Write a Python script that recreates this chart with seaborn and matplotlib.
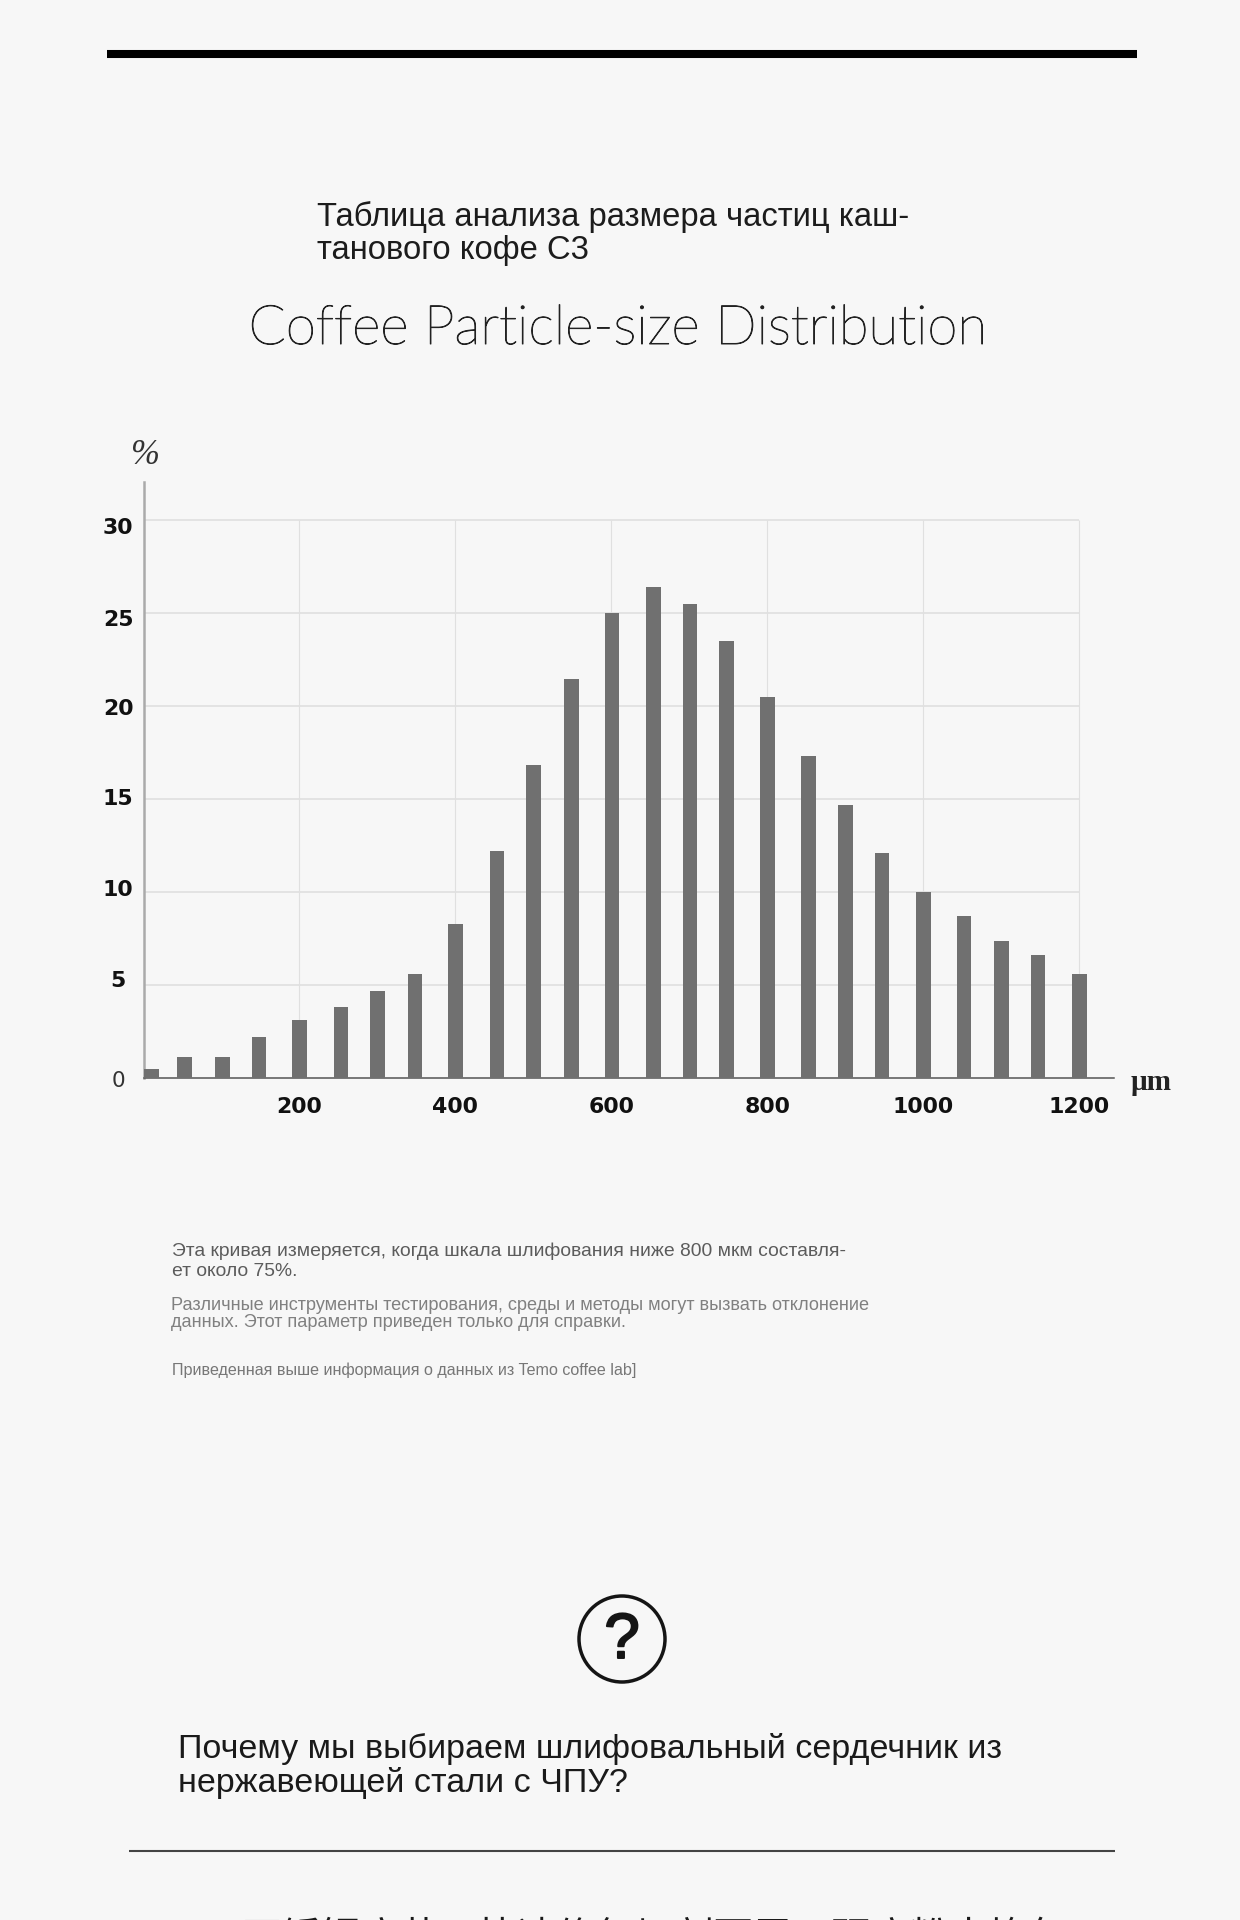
import matplotlib
matplotlib.use("Agg")
import matplotlib.pyplot as plt
import matplotlib.patheffects as pe
import matplotlib.transforms as mtrans
from matplotlib.patches import Circle
import numpy as np
import seaborn as sns

# particle size (um) and share (%)
sizes = [11, 54, 102, 149, 201, 254, 301, 349, 401, 454, 501, 549, 601, 654, 701,
         748, 800, 853, 900, 947, 1000, 1052, 1100, 1147, 1200]
percents = [0.44, 1.09, 1.09, 2.2, 3.1, 3.8, 4.67, 5.58, 8.25, 12.2, 16.8, 21.45, 25.0, 26.4, 25.5,
            23.5, 20.5, 17.3, 14.65, 12.1, 10.0, 8.67, 7.34, 6.6, 5.58]
x_ticks = [200, 400, 600, 800, 1000, 1200]
y_ticks = [0, 5, 10, 15, 20, 25, 30]
# the y labels sit a bit off their grid lines in the original (px, + is up)
y_label_shift = [-1.4, 5.5, 4.1, 1.8, -1.4, -4.6, -6.4]

title_lines = ["Таблица анализа размера частиц каш-", "танового кофе C3"]
chart_title = "Coffee Particle-size Distribution"
note_1 = ["Эта кривая измеряется, когда шкала шлифования ниже 800 мкм составля-", "ет около 75%."]
note_2 = ["Различные инструменты тестирования, среды и методы могут вызвать отклонение",
          "данных. Этот параметр приведен только для справки."]
note_3 = "Приведенная выше информация о данных из Temo coffee lab]"
question = ["Почему мы выбираем шлифовальный сердечник из", "нержавеющей стали с ЧПУ?"]
cut_line = "304不锈钢磨芯可快速修复切割面层，研磨粉末均匀"

W, H = 1240, 1920
BG = "#f7f7f7"

sns.set_theme(style="white", rc={"figure.facecolor": BG, "savefig.facecolor": BG})
plt.rcParams["font.family"] = ["Liberation Sans", "Noto Sans CJK SC", "DejaVu Sans"]

fig = plt.figure(figsize=(W / 100, H / 100), dpi=100)

# page layer in pixel coordinates for everything around the chart
page = fig.add_axes([0, 0, 1, 1], zorder=0)
page.set_xlim(0, W)
page.set_ylim(H, 0)
page.axis("off")

page.hlines(54, 107, 1137, color="#000000", lw=5.8)
page.hlines(1851, 129, 1115, color="#444444", lw=1.5)
page.add_patch(Circle((622, 1639), 43, fill=False, ec="#151515", lw=2.5))
page.text(622, 1641, "?", fontsize=46, ha="center", va="center", color="#151515",
          path_effects=[pe.withStroke(linewidth=1.4, foreground="#151515")])


def put_lines(lines, x, baselines, size, color):
    for line, y in zip(lines, baselines):
        page.text(x, y, line, fontsize=size, color=color, ha="left", va="baseline")


put_lines(title_lines, 317, [226, 259], 23.6, "#1c1c1c")
page.text(618, 344, chart_title, fontsize=39.3, color="#222222", ha="center", va="baseline",
          family="Lato", fontweight="light",
          path_effects=[pe.withStroke(linewidth=0.7, foreground="#222222")])
put_lines(note_1, 172, [1256, 1276], 13.9, "#5c5c5c")
put_lines(note_2, 171, [1310, 1327], 13.1, "#808080")
put_lines([note_3], 172, [1375], 11.6, "#777777")
put_lines(question, 178, [1758, 1792], 24.5, "#1a1a1a")
page.text(178, 1950, cut_line, fontsize=28.3, color="#1a1a1a", family="Noto Sans CJK SC", va="baseline")

# chart
ax = fig.add_axes([144.4 / W, 1 - 1077.5 / H, (1113.8 - 144.4) / W, (1077.5 - 482) / H], zorder=1)
ax.patch.set_alpha(0)
bar_width = 18.8 / np.diff(sizes).min()
sns.barplot(x=sizes, y=percents, native_scale=True, color="#707070", saturation=1,
            width=bar_width, errorbar=None, linewidth=0, ax=ax, zorder=3)
ax.set_xlim(2.2, 1244)
ax.set_ylim(0, 32.05)

ax.hlines(y_ticks[1:], 2.2, 1200, color="#dddddd", lw=1.1, zorder=1)
ax.vlines(x_ticks, 0, 30, color="#e0e0e0", lw=0.8, zorder=1)

sns.despine(ax=ax)
ax.spines["left"].set_color("#aaaaaa")
ax.spines["left"].set_linewidth(1.8)
ax.spines["bottom"].set_color("#555555")
ax.spines["bottom"].set_linewidth(1.1)

ax.set_xticks(x_ticks)
ax.set_xticklabels([str(t) for t in x_ticks], fontsize=15.8, fontweight="bold", family="DejaVu Sans", color="#111111")
ax.set_yticks(y_ticks)
ax.set_yticklabels([str(t) for t in y_ticks], fontsize=15.8, fontweight="bold", family="DejaVu Sans", color="#111111")
ax.tick_params(axis="both", length=0)
ax.tick_params(axis="x", pad=14)
ax.tick_params(axis="y", pad=19)
for lab, dy in zip(ax.get_yticklabels(), y_label_shift):
    lab.set_ha("center")
    lab.set_transform(lab.get_transform() + mtrans.ScaledTranslation(0, dy / 100, fig.dpi_scale_trans))
zero = ax.get_yticklabels()[0]
zero.set_fontweight("normal")
zero.set_fontsize(15.5)
zero.set_color("#333333")

# axis units, serif like the original
page.text(144.5, 456, "%", fontsize=25, style="italic", family="Liberation Serif", color="#333333",
          ha="center", va="center")
page.text(1151, 1082, "µm", fontsize=21, fontweight="bold", family="Liberation Serif", color="#222222",
          ha="center", va="center")

fig.savefig("out.png", dpi=100)
